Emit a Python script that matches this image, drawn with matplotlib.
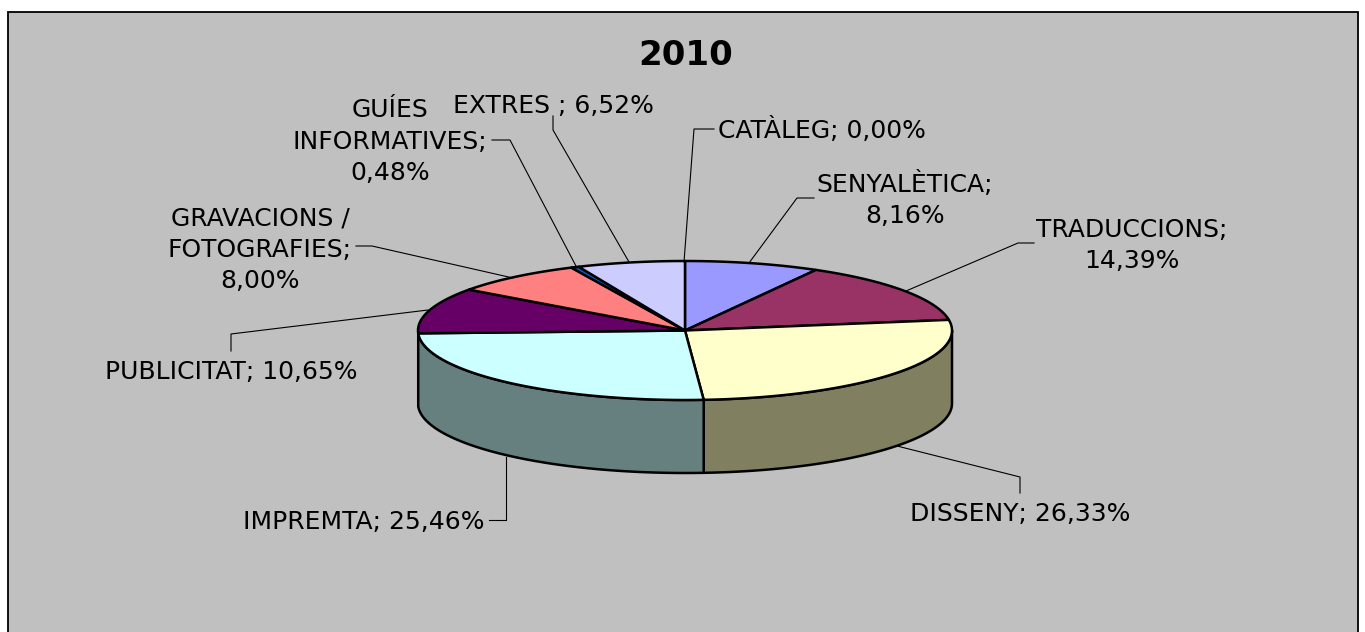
import numpy as np
import matplotlib.pyplot as plt
from matplotlib.patches import Polygon, Rectangle

names = ['CATÀLEG', 'SENYALÈTICA', 'TRADUCCIONS', 'DISSENY', 'IMPREMTA',
         'PUBLICITAT', 'GRAVACIONS / FOTOGRAFIES', 'GUÍES INFORMATIVES', 'EXTRES']
values = [0.00, 8.16, 14.39, 26.33, 25.46, 10.65, 8.00, 0.48, 6.52]
colors = ['#9999FF', '#9999FF', '#993366', '#FFFFCC', '#CCFFFF',
          '#660066', '#FF8080', '#0066CC', '#CCCCFF']
side_colors = {3: '#808060', 4: '#668080'}

# строки подписей: (текст, x центра, y базовой линии) в пикселях
label_lines = [
    ('CATÀLEG; 0,00%', 822, 138),
    ('SENYALÈTICA;', 905, 192),
    ('8,16%', 905, 223),
    ('TRADUCCIONS;', 1132, 237),
    ('14,39%', 1132, 268),
    ('DISSENY; 26,33%', 1020, 521),
    ('IMPREMTA; 25,46%', 364, 529),
    ('PUBLICITAT; 10,65%', 231, 379),
    ('GRAVACIONS /', 260, 226),
    ('FOTOGRAFIES;', 260, 257),
    ('8,00%', 260, 288),
    ('GUÍES', 390, 117),
    ('INFORMATIVES;', 390, 149),
    ('0,48%', 390, 180),
    ('EXTRES ; 6,52%', 553, 113),
]
# линии-выноски
leaders = [
    ([684, 694, 714], [262, 129, 129]),
    ([749, 797, 814], [263, 198, 198]),
    ([906, 1018, 1034], [291, 243, 243]),
    ([897, 1020, 1020], [446, 477, 493]),
    ([506, 506, 489], [457, 520, 520]),
    ([428, 231, 231], [310, 334, 351]),
    ([513, 372, 356], [278, 246, 246]),
    ([577, 510, 492], [268, 140, 140]),
    ([629, 553, 553], [262, 130, 116]),
]

cx, cy, rx, ry, depth = 685, 330.5, 267, 69.5, 73


def edge(t, dy=0):
    return np.column_stack([cx + rx * np.sin(t), cy - ry * np.cos(t) + dy])


fig = plt.figure(figsize=(13.65, 6.32), dpi=100, facecolor='white')
ax = fig.add_axes([0, 0, 1, 1])
ax.set_xlim(0, 1365)
ax.set_ylim(632, 0)
ax.axis('off')

ax.add_patch(Rectangle((8, 12), 1350, 640, fc='#C0C0C0', ec='black', lw=1.3))

bounds = np.cumsum([0] + values) / sum(values) * 360

# боковая стенка
for i, c in side_colors.items():
    t = np.radians(np.linspace(max(bounds[i], 90), min(bounds[i + 1], 270), 100))
    pts = np.vstack([edge(t), edge(t[::-1], depth)])
    ax.add_patch(Polygon(pts, fc=c, ec='black', lw=1.8, joinstyle='round'))

# верхняя поверхность
for i, c in enumerate(colors):
    if values[i] == 0:
        continue
    t = np.radians(np.linspace(bounds[i], bounds[i + 1], 100))
    pts = np.vstack([[cx, cy], edge(t)])
    ax.add_patch(Polygon(pts, fc=c, ec='black', lw=1.8, joinstyle='round'))

for xs, ys in leaders:
    ax.plot(xs, ys, color='black', lw=0.8)

for txt, x, y in label_lines:
    ax.text(x, y, txt, ha='center', va='baseline', fontsize=18)

ax.text(686, 65, '2010', ha='center', va='baseline', fontsize=24.5, fontweight='bold')

fig.savefig('out.png', dpi=100)
